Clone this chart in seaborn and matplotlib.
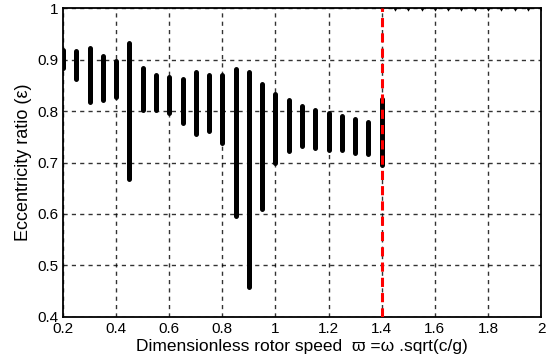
import matplotlib
matplotlib.use("Agg")
import matplotlib.pyplot as plt
import seaborn as sns
import pandas as pd
from matplotlib.ticker import FixedLocator

# Bifurcation ranges (rotor speed, min eccentricity, max eccentricity)
speeds = [0.20, 0.25, 0.30, 0.35, 0.40, 0.45, 0.50, 0.55, 0.60, 0.65, 0.70, 0.75,
          0.80, 0.85, 0.90, 0.95, 1.00, 1.05, 1.10, 1.15, 1.20, 1.25, 1.30, 1.35, 1.40]
ecc_min = [0.884, 0.863, 0.818, 0.822, 0.827, 0.668, 0.803, 0.803, 0.797, 0.778, 0.756, 0.761,
           0.738, 0.596, 0.457, 0.609, 0.699, 0.722, 0.732, 0.729, 0.725, 0.725, 0.719, 0.717, 0.696]
ecc_max = [0.919, 0.918, 0.923, 0.908, 0.897, 0.932, 0.885, 0.871, 0.866, 0.863, 0.877, 0.871,
           0.871, 0.883, 0.876, 0.853, 0.834, 0.822, 0.811, 0.803, 0.797, 0.791, 0.785, 0.779, 0.824]

# Fully eccentric region beyond threshold
high_speeds = [1.45, 1.50, 1.55, 1.60, 1.65, 1.70, 1.75, 1.80, 1.85, 1.90, 1.95, 2.00]
high_ecc = [1.0] * len(high_speeds)

threshold = 1.4
x_ticks = [0.2, 0.4, 0.6, 0.8, 1.0, 1.2, 1.4, 1.6, 1.8, 2.0]
x_labels = ["0.2", "0.4", "0.6", "0.8", "1", "1.2", "1.4", "1.6", "1.8", "2"]
y_ticks = [0.4, 0.5, 0.6, 0.7, 0.8, 0.9, 1.0]
y_labels = ["0.4", "0.5", "0.6", "0.7", "0.8", "0.9", "1"]

sns.set_theme(style="white")
plt.rcParams["font.family"] = ["Liberation Sans", "DejaVu Sans"]

fig = plt.figure(figsize=(5.46, 3.63), dpi=100)
ax = fig.add_axes([0.1154, 0.1275, 0.8756, 0.8491])

df = pd.DataFrame({"speed": speeds, "lo": ecc_min, "hi": ecc_max})
ax.vlines(df["speed"], df["lo"], df["hi"], colors="black", linewidth=3.6,
          capstyle="round", zorder=3)

hdf = pd.DataFrame({"speed": high_speeds, "ecc": high_ecc})
sns.scatterplot(data=hdf, x="speed", y="ecc", ax=ax, marker="v", s=14,
                color="black", edgecolor="black", linewidth=0.5, zorder=4, clip_on=True)

ax.axvline(threshold, color="red", linestyle=(0, (3, 2)), linewidth=2.2, zorder=5)

ax.set_xlim(0.2, 2.0)
ax.set_ylim(0.4, 1.0)
ax.xaxis.set_major_locator(FixedLocator(x_ticks))
ax.yaxis.set_major_locator(FixedLocator(y_ticks))
ax.set_xticklabels(x_labels, fontsize=11)
ax.set_yticklabels(y_labels, fontsize=11)
ax.tick_params(direction="in", length=4, width=1, color="black",
               labelcolor="black")
ax.tick_params(axis="x", pad=4)
ax.tick_params(axis="y", pad=3)
ax.grid(True, color="black", linestyle=(0, (3, 3)), linewidth=1.0, alpha=0.8)

for s in ax.spines.values():
    s.set_color("black")
    s.set_linewidth(1.3)
    s.set_visible(True)

ax.set_xlabel("Dimensionless rotor speed  ϖ =ω .sqrt(c/g)", fontsize=12.5, labelpad=2,
              color="black")
ax.set_ylabel("Eccentricity ratio (ε)", fontsize=13, labelpad=4, color="black")

fig.savefig("out.png", dpi=100)
